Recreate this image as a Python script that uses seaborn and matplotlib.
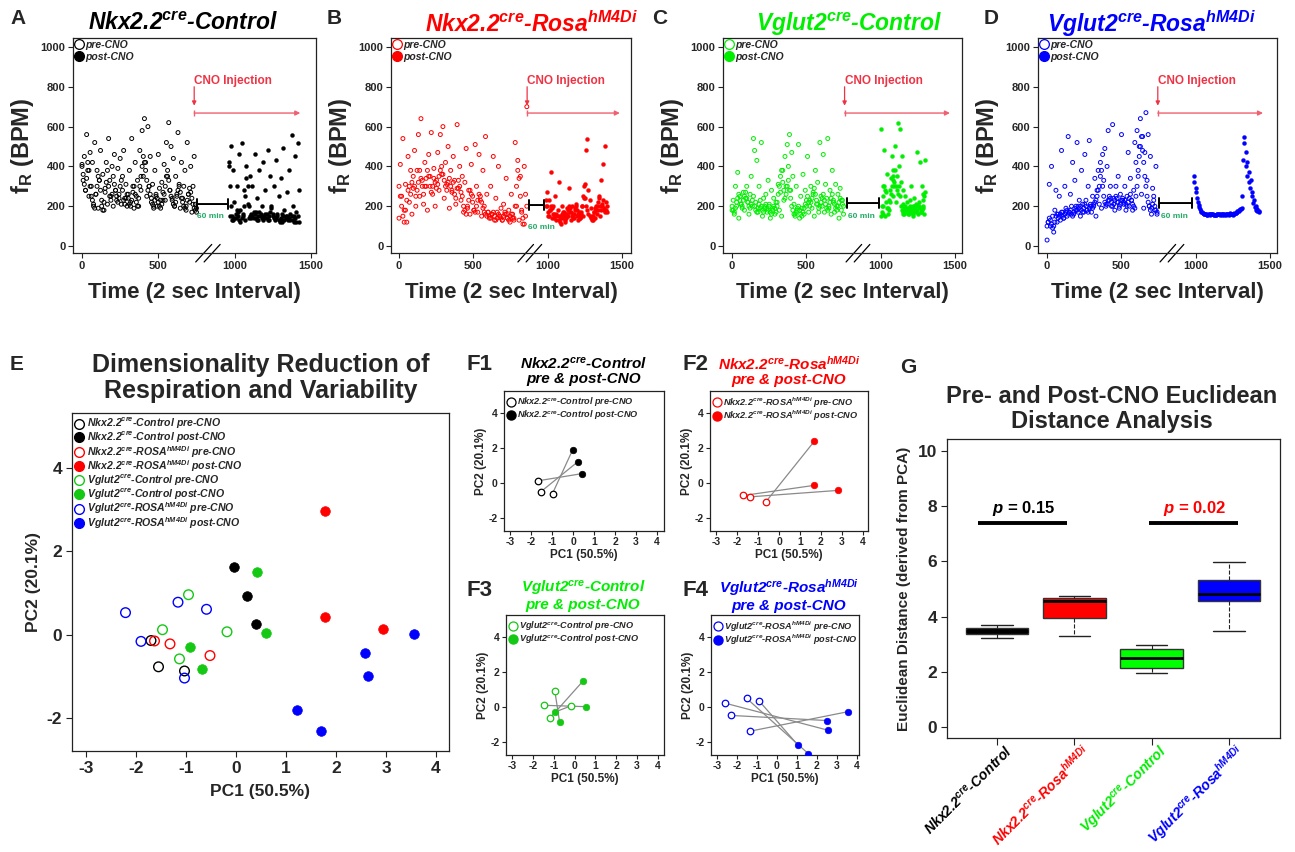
import numpy as np
import pandas as pd
import matplotlib
matplotlib.use('Agg')
import matplotlib.pyplot as plt
from matplotlib.lines import Line2D
from matplotlib.transforms import blended_transform_factory
import seaborn as sns

# ---------------- A-D : breathing frequency traces (BPM) ----------------
# scattered points
a_pre = [410, 330, 450, 280, 560, 380, 250, 470, 300, 420,
         200, 520, 260, 380, 190, 330, 480, 230, 360, 180,
         290, 420, 210, 540, 330, 250, 400, 200, 460, 280,
         230, 390, 260, 440, 210, 350, 480, 240, 310, 200,
         260, 380, 220, 540, 300, 190, 420, 250, 330, 200,
         480, 280, 580, 350, 640, 420, 250, 600, 300, 450,
         220, 310, 190, 380, 250, 200, 460, 290, 230, 320,
         270, 410, 230, 520, 350, 620, 280, 500, 240, 440,
         200, 350, 260, 570, 310, 190, 420, 240, 300, 380,
         180, 520, 260, 220, 400, 170, 300, 450, 210, 190]
a_post = [420, 150, 500, 130, 380, 220, 140, 300, 170, 460,
          180, 520, 150, 280, 130, 400, 210, 140, 350, 160,
          300, 140, 460, 170, 240, 130, 380, 150, 200, 420,
          140, 280, 160, 480, 130, 350, 190, 150, 300, 140,
          430, 160, 250, 130, 340, 120, 490, 180, 150, 270,
          140, 380, 130, 560, 200, 150, 450, 120, 520, 280]
# dense core band
a_pre_core = [400, 360, 310, 280, 340, 420, 380, 300, 250, 230,
              210, 190, 260, 300, 350, 330, 280, 200, 180, 220,
              270, 320, 380, 300, 250, 230, 260, 350, 310, 280,
              250, 220, 240, 300, 330, 280, 230, 210, 240, 260,
              240, 210, 200, 230, 270, 300, 260, 220, 200, 240,
              300, 350, 400, 450, 420, 380, 330, 280, 300, 260,
              240, 210, 200, 230, 260, 240, 220, 200, 190, 210,
              230, 260, 300, 350, 380, 330, 280, 250, 230, 210,
              200, 220, 250, 280, 300, 270, 240, 220, 200, 190,
              200, 230, 260, 290, 270, 240, 210, 190, 180, 170]
a_post_core = [400, 300, 200, 150, 130, 140, 160, 180, 150, 130,
               120, 140, 160, 200, 250, 340, 300, 200, 150, 140,
               150, 170, 160, 140, 130, 150, 170, 160, 140, 130,
               150, 160, 140, 130, 150, 170, 200, 160, 140, 130,
               140, 150, 130, 120, 140, 160, 150, 130, 140, 150,
               130, 140, 160, 150, 130, 120, 140, 170, 150, 120]

b_pre = [140, 410, 250, 540, 180, 310, 120, 450, 220, 380,
         160, 290, 480, 200, 380, 560, 250, 640, 330, 210,
         420, 300, 180, 460, 350, 570, 260, 390, 200, 330,
         470, 280, 560, 360, 600, 240, 420, 310, 500, 190,
         380, 270, 450, 330, 210, 610, 290, 400, 230, 350,
         170, 320, 490, 200, 280, 160, 410, 250, 180, 510,
         300, 170, 460, 230, 150, 380, 200, 550, 260, 170,
         140, 300, 160, 450, 130, 240, 170, 400, 150, 190,
         130, 210, 160, 340, 140, 180, 120, 260, 160, 140,
         520, 200, 430, 130, 350, 170, 110, 400, 260, 700]
b_post = [200, 270, 150, 230, 180, 370, 140, 200, 160, 250,
          130, 180, 320, 150, 110, 200, 140, 170, 120, 160,
          190, 150, 290, 170, 130, 200, 160, 140, 180, 210,
          150, 130, 170, 140, 160, 200, 150, 240, 310, 480,
          540, 280, 230, 190, 150, 130, 170, 140, 200, 160,
          180, 240, 150, 330, 200, 410, 180, 500, 220, 170]
b_pre_core = [300, 250, 200, 150, 120, 180, 230, 280, 300, 260,
              320, 350, 300, 250, 280, 320, 380, 340, 300, 260,
              300, 340, 380, 350, 300, 270, 300, 340, 320, 290,
              310, 350, 380, 400, 360, 330, 300, 280, 320, 340,
              300, 280, 320, 260, 240, 290, 330, 300, 270, 250,
              200, 180, 160, 190, 230, 280, 260, 220, 180, 170,
              200, 230, 260, 250, 220, 190, 170, 160, 150, 170,
              150, 140, 160, 170, 150, 130, 140, 160, 150, 140,
              130, 150, 170, 160, 140, 130, 150, 160, 140, 130,
              200, 300, 380, 340, 250, 180, 140, 110, 150, 200]
b_post_core = [230, 200, 170, 150, 180, 200, 190, 160, 140, 150,
               160, 150, 130, 120, 140, 160, 170, 150, 130, 140,
               160, 180, 200, 190, 170, 150, 140, 160, 190, 200,
               180, 160, 150, 140, 170, 200, 250, 300, 240, 200,
               180, 160, 150, 140, 130, 150, 170, 190, 180, 200,
               220, 250, 200, 180, 210, 230, 190, 170, 180, 200]

c_pre = [180, 230, 160, 300, 200, 370, 140, 250, 210, 190,
         270, 180, 240, 300, 220, 160, 260, 350, 200, 540,
         480, 220, 430, 170, 300, 190, 520, 150, 240, 200,
         260, 170, 330, 210, 140, 280, 190, 240, 160, 220,
         200, 310, 180, 270, 150, 380, 230, 450, 300, 510,
         400, 560, 280, 470, 350, 210, 160, 300, 180, 510,
         140, 250, 190, 360, 160, 280, 200, 450, 170, 230,
         300, 190, 260, 150, 380, 210, 320, 170, 520, 250,
         200, 460, 170, 310, 240, 540, 190, 280, 160, 380,
         220, 170, 310, 200, 260, 140, 290, 180, 230, 160]
c_post = [590, 200, 300, 160, 480, 150, 270, 360, 190, 230,
          280, 340, 450, 250, 380, 300, 500, 220, 350, 620,
          400, 590, 320, 450, 280, 210, 160, 250, 180, 220,
          190, 160, 230, 300, 170, 200, 150, 240, 180, 210,
          470, 160, 200, 420, 170, 300, 190, 260, 160, 430]
c_pre_core = [200, 180, 170, 190, 220, 240, 260, 230, 210, 200,
              230, 250, 270, 240, 220, 200, 190, 210, 230, 250,
              200, 180, 170, 190, 210, 230, 200, 180, 170, 190,
              210, 190, 180, 200, 170, 160, 180, 200, 190, 170,
              220, 260, 300, 350, 380, 320, 280, 240, 260, 300,
              330, 280, 240, 200, 180, 160, 150, 170, 190, 200,
              180, 160, 150, 170, 190, 210, 230, 250, 220, 200,
              220, 240, 270, 290, 260, 230, 210, 190, 200, 220,
              240, 260, 230, 210, 190, 180, 200, 220, 240, 260,
              230, 210, 190, 180, 200, 220, 240, 230, 210, 200]
c_post_core = [150, 170, 200, 250, 300, 280, 220, 190, 160, 180,
               220, 260, 300, 330, 350, 320, 380, 300, 280, 260,
               300, 250, 200, 180, 160, 170, 190, 200, 180, 170,
               160, 180, 200, 190, 170, 160, 180, 200, 190, 170,
               180, 200, 220, 190, 170, 180, 200, 230, 250, 270]

d_pre = [30, 120, 310, 100, 400, 150, 70, 180, 280, 120,
         160, 250, 130, 480, 170, 140, 300, 190, 150, 550,
         170, 260, 200, 420, 160, 330, 180, 520, 200, 230,
         150, 380, 210, 170, 460, 230, 180, 300, 530, 200,
         170, 250, 200, 340, 150, 280, 380, 210, 420, 190,
         460, 330, 490, 210, 400, 580, 230, 300, 200, 610,
         240, 180, 300, 220, 350, 190, 260, 560, 230, 210,
         300, 180, 250, 470, 200, 340, 230, 180, 280, 520,
         420, 580, 350, 500, 640, 260, 550, 190, 470, 670,
         330, 560, 200, 450, 160, 290, 250, 180, 400, 160]
d_post = [350, 290, 240, 205, 185, 172, 165, 162, 160, 158,
          160, 157, 160, 163, 158, 156, 160, 162, 158, 160,
          163, 158, 157, 160, 162, 165, 160, 158, 162, 167,
          170, 178, 185, 190, 430, 550, 400, 350, 320, 290,
          250, 215, 195, 182, 176, 173]
d_pre_core = [100, 120, 140, 130, 110, 90, 100, 120, 150, 160,
              140, 150, 160, 170, 150, 140, 160, 170, 180, 160,
              170, 180, 160, 150, 170, 190, 200, 180, 170, 190,
              200, 180, 170, 190, 210, 200, 180, 170, 190, 210,
              200, 190, 210, 220, 230, 250, 280, 300, 350, 380,
              300, 250, 220, 200, 210, 230, 250, 240, 220, 200,
              210, 230, 250, 240, 220, 200, 210, 230, 240, 220,
              230, 210, 200, 220, 240, 260, 230, 210, 200, 190,
              250, 300, 380, 450, 500, 550, 480, 420, 350, 300,
              250, 220, 200, 180, 190, 210, 230, 200, 180, 170]
d_post_core = [320, 270, 220, 195, 178, 168, 163, 160, 158, 160,
               159, 161, 158, 157, 160, 162, 159, 158, 161, 163,
               160, 158, 159, 162, 164, 168, 175, 182, 188, 250,
               520, 470, 420, 370, 330, 270, 230, 200, 185, 178]

# ---------------- E : PCA of all animals ----------------
e_pc1 = {
    ('nc', 'pre'): [-1.70, -1.55, -1.03], ('nc', 'post'): [-0.05, 0.21, 0.39],
    ('nr', 'pre'): [-1.63, -1.32, -0.52], ('nr', 'post'): [1.77, 1.77, 2.93],
    ('vc', 'pre'): [-0.95, -1.47, -0.18, -1.13], ('vc', 'post'): [0.42, 0.59, -0.93, -0.69],
    ('vr', 'pre'): [-2.21, -1.90, -1.16, -0.59, -1.03], ('vr', 'post'): [3.56, 2.57, 2.64, 1.22, 1.70],
}
e_pc2 = {
    ('nc', 'pre'): [-0.14, -0.77, -0.87], ('nc', 'post'): [1.62, 0.94, 0.25],
    ('nr', 'pre'): [-0.15, -0.22, -0.50], ('nr', 'post'): [2.96, 0.42, 0.14],
    ('vc', 'pre'): [0.96, 0.12, 0.07, -0.58], ('vc', 'post'): [1.50, 0.05, -0.29, -0.82],
    ('vr', 'pre'): [0.53, -0.16, 0.78, 0.61, -1.04], ('vr', 'post'): [0.02, -0.44, -0.98, -1.81, -2.32],
}

# ---------------- F1-F4 : paired pre/post PCA (pre[i] <-> post[i]) ----------------
f1_pre = [(-1.66, 0.13), (-1.54, -0.50), (-0.98, -0.60)]
f1_post = [(0.43, 0.54), (0.24, 1.23), (-0.02, 1.90)]
f2_pre = [(-1.70, -0.71), (-1.40, -0.79), (-0.62, -1.06)]
f2_post = [(1.69, -0.13), (2.81, -0.42), (1.69, 2.40)]
f3_pre = [(-1.16, -0.60), (-1.46, 0.10), (-0.95, 0.94), (-0.19, 0.06)]
f3_post = [(0.40, 1.48), (0.57, 0.02), (-0.72, -0.85), (-0.95, -0.29)]
f4_pre = [(-2.62, 0.23), (-2.28, -0.48), (-1.35, -1.38), (-1.52, 0.50), (-0.88, 0.33)]
f4_post = [(2.57, -1.33), (2.48, -0.77), (3.53, -0.27), (1.57, -2.67), (1.03, -2.15)]

# ---------------- G : Euclidean distance (box stats) ----------------
g_groups = ['Nkx2.2 Control', 'Nkx2.2 Rosa', 'Vglut2 Control', 'Vglut2 Rosa']
g_nkx_ctrl = [3.23, 3.35, 3.48, 3.59, 3.71]
g_nkx_rosa = [3.31, 3.94, 4.55, 4.67, 4.76]
g_vg_ctrl = [1.95, 2.13, 2.51, 2.81, 2.96]
g_vg_rosa = [3.49, 4.57, 4.82, 5.33, 5.98]
g_pvals = ['0.15', '0.02']

# ---------------- style ----------------
sns.set_style('ticks')
plt.rcParams['font.family'] = ['Liberation Sans', 'DejaVu Sans']
plt.rcParams['font.weight'] = 'bold'
plt.rcParams['axes.labelweight'] = 'bold'
plt.rcParams['axes.unicode_minus'] = False
plt.rcParams['mathtext.fontset'] = 'custom'
plt.rcParams['mathtext.rm'] = 'Liberation Sans:bold:italic'
plt.rcParams['mathtext.it'] = 'Liberation Sans:bold:italic'
plt.rcParams['mathtext.bf'] = 'Liberation Sans:bold'
plt.rcParams['axes.edgecolor'] = '#222222'

RED, BLUE, LIME = '#FF0000', '#0000FF', '#00EE00'
GREEN_PCA = '#14C814'
CNO_RED = '#EE3344'

W, H = 1295, 852


def box(l, t, r, b):
    return [l / W, 1 - b / H, (r - l) / W, (b - t) / H]


def frame(ax, lw=0.9):
    for s in ax.spines.values():
        s.set_visible(True)
        s.set_linewidth(lw)
        s.set_color('#222222')


fig = plt.figure(figsize=(12.95, 8.52), dpi=100)

NKX_C = 'Nkx2.2$^{cre}$-Control'
NKX_R = 'Nkx2.2$^{cre}$-Rosa$^{hM4Di}$'
VG_C = 'Vglut2$^{cre}$-Control'
VG_R = 'Vglut2$^{cre}$-Rosa$^{hM4Di}$'

traces = [
    dict(letter='A', lx=10, title=NKX_C, tx=183, color='black',
         pre=[a_pre, a_pre_core], post=[a_post, a_post_core],
         pre_span=(0, 750), post_span=(960, 1420), rect=(73, 38, 316, 253), xlim=(-59, 1533),
         cno=735, arrow_end=1430, bracket=(752, 955, 211), brk=745),
    dict(letter='B', lx=327, title=NKX_R, tx=531, color=RED,
         pre=[b_pre, b_pre_core], post=[b_post, b_post_core],
         pre_span=(0, 860), post_span=(990, 1400), rect=(391, 38, 631, 253), xlim=(-54, 1561),
         cno=862, arrow_end=1486, bracket=(874, 975, 206), brk=800, min_y=95, min_x=955),
    dict(letter='C', lx=652, title=VG_C, tx=849, color=LIME,
         pre=[c_pre, c_pre_core], post=[c_post, c_post_core],
         pre_span=(0, 750), post_span=(1000, 1300), rect=(723, 38, 962, 253), xlim=(-61, 1547),
         cno=757, arrow_end=1466, bracket=(773, 989, 216), brk=767),
    dict(letter='D', lx=984, title=VG_R, tx=1151, color=BLUE,
         pre=[d_pre, d_pre_core], post=[d_post, d_post_core],
         pre_span=(0, 740), post_span=(990, 1425), rect=(1038, 38, 1277, 253), xlim=(-61, 1547),
         cno=745, arrow_end=1453, bracket=(753, 975, 216), brk=760),
]

for tr in traces:
    ax = fig.add_axes(box(*tr['rect']))
    c = tr['color']
    for vals in tr['pre']:
        xs = np.linspace(*tr['pre_span'], len(vals))
        sns.scatterplot(x=xs, y=vals, ax=ax, s=8, facecolors='none', edgecolor=c, linewidth=0.7)
    for vals in tr['post']:
        xs = np.linspace(*tr['post_span'], len(vals))
        sns.scatterplot(x=xs, y=vals, ax=ax, s=8, color=c, edgecolor=c, linewidth=0.3)
    ax.set_xlim(*tr['xlim'])
    ax.set_ylim(-35, 1045)
    ax.set_xticks([0, 500, 1000, 1500])
    ax.set_yticks(range(0, 1001, 200))
    ax.tick_params(labelsize=8, length=3.5, width=0.8, color='#222222', pad=2)
    frame(ax)
    ax.set_ylabel(r'$\mathbf{f}_{\mathbf{R}}$ (BPM)', fontsize=17, labelpad=3)
    ax.set_xlabel('Time (2 sec Interval)', fontsize=16, labelpad=8)

    # CNO injection markers
    x0 = tr['cno']
    ax.text(x0, 830, 'CNO Injection', color=CNO_RED, fontsize=8.5, ha='left', va='center',
            family=['Liberation Sans Narrow', 'Liberation Sans'])
    ax.annotate('', xy=(x0, 705), xytext=(x0, 800),
                arrowprops=dict(arrowstyle='-|>', color=CNO_RED, lw=0.9, mutation_scale=6,
                                shrinkA=0, shrinkB=0))
    ax.annotate('', xy=(tr['arrow_end'], 668), xytext=(x0, 668),
                arrowprops=dict(arrowstyle='-|>', color='#F06070', lw=1.0,
                                mutation_scale=7, shrinkA=0, shrinkB=0))
    ax.plot([x0], [668], marker='|', ms=5, mew=1.0, color='#F06070')

    # 60 min gap bracket
    b0, b1, by = tr['bracket']
    ax.annotate('', xy=(b1, by), xytext=(b0, by),
                arrowprops=dict(arrowstyle='|-|,widthA=0.35,widthB=0.35', color='black', lw=1.4,
                                mutation_scale=10, shrinkA=0, shrinkB=0))
    ax.text(tr.get('min_x', (b0 + b1) / 2 - 10), tr.get('min_y', 150), '60 min', color='#22AA66',
            fontsize=6, ha='center', va='center')

    # axis break marks
    bx = tr['brk']
    for dx in (0, 55):
        ax.plot([bx + dx, bx + dx + 105], [-80, 8], color='black', lw=0.9, clip_on=False)

    handles = [Line2D([], [], marker='o', ls='none', mfc='none', mec=c, ms=7, mew=0.9),
               Line2D([], [], marker='o', ls='none', mfc=c, mec=c, ms=7)]
    ax.legend(handles, ['pre-CNO', 'post-CNO'], loc='upper left', frameon=False,
              prop=dict(size=7.5, style='italic', weight='bold'), handlelength=0.7,
              handletextpad=0.3, labelspacing=0.15, borderaxespad=0.1, borderpad=0.1)

    fig.text(tr['lx'] / W, 1 - 18 / H, tr['letter'], fontsize=15, weight='bold', va='center')
    fig.text(tr['tx'] / W, 1 - 24 / H, tr['title'], color=c, fontsize=16.5, style='italic',
             weight='bold', ha='center', va='center')

# ---------------- E ----------------
pca_colors = {'nc': 'black', 'nr': RED, 'vc': GREEN_PCA, 'vr': BLUE}
pca_names = {'nc': 'Nkx2.2$^{cre}$-Control', 'nr': 'Nkx2.2$^{cre}$-ROSA$^{hM4Di}$',
             'vc': 'Vglut2$^{cre}$-Control', 'vr': 'Vglut2$^{cre}$-ROSA$^{hM4Di}$'}

axE = fig.add_axes(box(72, 413, 449, 751))
handles, labels = [], []
for g in ['nc', 'nr', 'vc', 'vr']:
    c = pca_colors[g]
    for ph in ['pre', 'post']:
        if ph == 'pre':
            sns.scatterplot(x=e_pc1[(g, ph)], y=e_pc2[(g, ph)], ax=axE, s=48,
                            facecolors='none', edgecolor=c, linewidth=1.0)
            handles.append(Line2D([], [], marker='o', ls='none', mfc='none', mec=c, ms=7, mew=1.0))
        else:
            sns.scatterplot(x=e_pc1[(g, ph)], y=e_pc2[(g, ph)], ax=axE, s=48,
                            color=c, edgecolor=c, linewidth=0.5)
            handles.append(Line2D([], [], marker='o', ls='none', mfc=c, mec=c, ms=7))
        labels.append(f'{pca_names[g]} {ph}-CNO')
axE.set_xlim(-3.28, 4.26)
axE.set_ylim(-2.79, 5.32)
axE.set_xticks(range(-3, 5))
axE.set_yticks([-2, 0, 2, 4])
axE.tick_params(labelsize=12.5, length=4, width=0.8, color='#222222', pad=3)
frame(axE)
axE.set_xlabel('PC1 (50.5%)', fontsize=12.5, labelpad=6)
axE.set_ylabel('PC2 (20.1%)', fontsize=12.5, labelpad=4)
axE.legend(handles, labels, loc='upper left', frameon=False,
           prop=dict(size=7.6, style='italic', weight='bold'), handlelength=0.8,
           handletextpad=0.3, labelspacing=-0.12, borderaxespad=0.1, borderpad=0.2)
fig.text(10 / W, 1 - 365 / H, 'E', fontsize=15, weight='bold', va='center')
fig.text(261 / W, 1 - 378 / H, 'Dimensionality Reduction of\nRespiration and Variability',
         fontsize=18, weight='bold', ha='center', va='center', linespacing=1.15)

# ---------------- F1-F4 ----------------
f_panels = [
    ('F1', NKX_C, 'black', 'black', 'nc', f1_pre, f1_post, (504, 391, 664, 531), (-3.29, 4.33), (466, 365), (584, 371)),
    ('F2', NKX_R, RED, RED, 'nr', f2_pre, f2_post, (710, 391, 868, 531), (-3.29, 4.24), (683, 365), (789, 371)),
    ('F3', VG_C, LIME, GREEN_PCA, 'vc', f3_pre, f3_post, (506, 615, 664, 755), (-3.29, 4.29), (466, 590), (583, 595)),
    ('F4', VG_R, BLUE, BLUE, 'vr', f4_pre, f4_post, (711, 615, 859, 755), (-3.30, 4.10), (683, 590), (789, 595)),
]
for lab, title, tcol, mcol, g, pre, post, rect, xlim, lxy, txy in f_panels:
    ax = fig.add_axes(box(*rect))
    seg = pd.DataFrame(
        [(i, p[0], p[1]) for i, p in enumerate(pre)] + [(i, q[0], q[1]) for i, q in enumerate(post)],
        columns=['pair', 'pc1', 'pc2'])
    sns.lineplot(data=seg, x='pc1', y='pc2', units='pair', estimator=None, sort=False,
                 color='#8a8a8a', lw=0.9, ax=ax)
    sns.scatterplot(x=[p[0] for p in pre], y=[p[1] for p in pre], ax=ax, s=22,
                    facecolors='white', edgecolor=mcol, linewidth=0.9, zorder=3)
    sns.scatterplot(x=[q[0] for q in post], y=[q[1] for q in post], ax=ax, s=22,
                    color=mcol, edgecolor=mcol, linewidth=0.5, zorder=3)
    ax.set_xlim(*xlim)
    ax.set_ylim(-2.74, 5.26)
    ax.set_xticks(range(-3, 5))
    ax.set_yticks([-2, 0, 2, 4])
    ax.tick_params(labelsize=7.5, length=3, width=0.8, color='#222222', pad=1.5)
    frame(ax)
    ax.set_xlabel('PC1 (50.5%)', fontsize=8.5, labelpad=1)
    ax.set_ylabel('PC2 (20.1%)', fontsize=8.5, labelpad=1)
    nm = pca_names[g]
    hs = [Line2D([], [], marker='o', ls='none', mfc='none', mec=mcol, ms=6.5, mew=0.9),
          Line2D([], [], marker='o', ls='none', mfc=mcol, mec=mcol, ms=6.5)]
    ax.legend(hs, [f'{nm} pre-CNO', f'{nm} post-CNO'], loc='upper left', frameon=False,
              prop=dict(size=6.6, style='italic', weight='bold'), handlelength=0.7,
              handletextpad=0.3, labelspacing=-0.05, borderaxespad=0.2, borderpad=0.25)
    fig.text(lxy[0] / W, 1 - lxy[1] / H, lab, fontsize=16, weight='bold', va='center')
    fig.text(txy[0] / W, 1 - txy[1] / H, title + '\npre & post-CNO', color=tcol, fontsize=11,
             style='italic', weight='bold', ha='center', va='center', linespacing=1.05)

# ---------------- G ----------------
axG = fig.add_axes(box(947, 439, 1280, 738))
dist = pd.DataFrame({
    'group': np.repeat(g_groups, 5),
    'dist': g_nkx_ctrl + g_nkx_rosa + g_vg_ctrl + g_vg_rosa,
})
g_colors = ['black', RED, '#00FF00', BLUE]
sns.boxplot(data=dist, x='group', y='dist', hue='group', order=g_groups, hue_order=g_groups,
            palette=g_colors, saturation=1, legend=False, width=0.81, linecolor='#333333',
            linewidth=1.0, whis=10, ax=axG,
            whiskerprops=dict(linestyle='--', linewidth=0.8, color='#222222'),
            capprops=dict(linewidth=1.0, color='#222222'),
            medianprops=dict(color='black', linewidth=2))
axG.set_xlim(-0.647, 3.66)
axG.set_ylim(-0.4, 10.43)
axG.set_yticks(range(0, 11, 2))
axG.set_xticks(range(4))
axG.set_xticklabels([])
axG.set_xlabel('')
axG.tick_params(axis='y', labelsize=12.5, length=4, width=0.8, color='#222222', pad=3)
axG.tick_params(axis='x', length=5, width=0.8, color='#222222')
frame(axG)
axG.set_ylabel('Euclidean Distance (derived from PCA)', fontsize=11, labelpad=5)

tl = blended_transform_factory(axG.transData, axG.transAxes)
for i, (name, c) in enumerate(zip([NKX_C, NKX_R, VG_C, VG_R], ['black', RED, '#00EE00', BLUE])):
    axG.text(i + 0.17, -0.035, name, transform=tl, rotation=45, rotation_mode='anchor',
             ha='right', va='center', fontsize=10.2, style='italic', weight='bold', color=c)

for (xa, xb, xt), pv, pc in zip([(-0.25, 0.9, 0.34), (1.97, 3.12, 2.55)], g_pvals, ['black', RED]):
    axG.plot([xa, xb], [7.39, 7.39], color='black', lw=2.8, solid_capstyle='butt')
    axG.text(xt, 7.9, f'$p$ = {pv}', color=pc, fontsize=12, weight='bold', ha='center', va='center')

fig.text(900 / W, 1 - 367 / H, 'G', fontsize=15, weight='bold', va='center')
fig.text(1112 / W, 1 - 409 / H, 'Pre- and Post-CNO Euclidean\nDistance Analysis', fontsize=17,
         weight='bold', ha='center', va='center', linespacing=1.15)

fig.savefig('out.png', dpi=100)
